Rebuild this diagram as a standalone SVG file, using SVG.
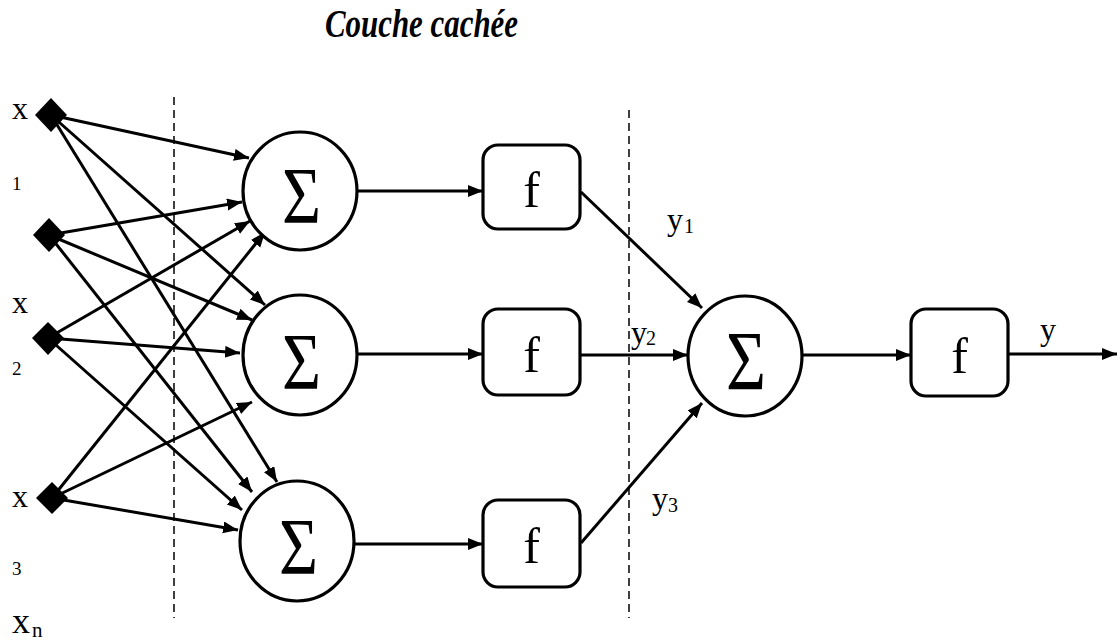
<svg xmlns="http://www.w3.org/2000/svg" width="1117" height="642" viewBox="0 0 1117 642">
  <style>
    .lbl { font-family: "Liberation Serif", "Times New Roman", serif; fill: #000; }
    .edge { stroke: #000; stroke-width: 3; fill: none; marker-end: url(#arrow); }
    .sum { fill: #fff; stroke: #000; stroke-width: 3.2; }
    .box { fill: #fff; stroke: #000; stroke-width: 3.2; }
    .sep { stroke: #000; stroke-width: 1.5; stroke-dasharray: 8 5; fill: none; }
    .inp { fill: #000; }
  </style>
  <defs>
    <marker id="arrow" markerUnits="userSpaceOnUse" markerWidth="16" markerHeight="14" refX="15" refY="6" orient="auto">
      <path d="M0,0 L15,6 L0,12 z" fill="#000"/>
    </marker>
  </defs>
  <rect width="1117" height="642" fill="#fff"/>

  <!-- title -->
  <text class="lbl" x="325" y="37" font-size="39" font-weight="bold" font-style="italic" textLength="193" lengthAdjust="spacingAndGlyphs">Couche cachée</text>

  <!-- layer separators -->
  <g id="separators">
    <line class="sep" x1="174" y1="97" x2="174" y2="618"/>
    <line class="sep" x1="629" y1="110" x2="629" y2="618"/>
  </g>

  <!-- connectors -->
  <g id="connectors">
    <!-- inputs to first hidden sum -->
    <line class="edge" x1="51" y1="115" x2="249" y2="158"/>
    <line class="edge" x1="49" y1="235" x2="242" y2="202"/>
    <line class="edge" x1="48" y1="338" x2="250" y2="221"/>
    <line class="edge" x1="52" y1="498" x2="265" y2="232"/>
    <!-- inputs to second hidden sum -->
    <line class="edge" x1="51" y1="115" x2="265" y2="305"/>
    <line class="edge" x1="49" y1="235" x2="252" y2="320"/>
    <line class="edge" x1="48" y1="338" x2="240" y2="353"/>
    <line class="edge" x1="52" y1="498" x2="252" y2="402"/>
    <!-- inputs to third hidden sum -->
    <line class="edge" x1="51" y1="115" x2="277" y2="482"/>
    <line class="edge" x1="49" y1="235" x2="252" y2="492"/>
    <line class="edge" x1="48" y1="338" x2="242" y2="510"/>
    <line class="edge" x1="52" y1="498" x2="238" y2="530"/>
    <!-- hidden sums to activations -->
    <line class="edge" x1="357" y1="191" x2="483" y2="191"/>
    <line class="edge" x1="357" y1="354" x2="483" y2="354"/>
    <line class="edge" x1="354" y1="544" x2="483" y2="544"/>
    <!-- activations to output sum -->
    <line class="edge" x1="581" y1="192" x2="702" y2="308"/>
    <line class="edge" x1="580" y1="355" x2="688" y2="355"/>
    <line class="edge" x1="581" y1="543" x2="702" y2="403"/>
    <!-- output sum to output activation, then out -->
    <line class="edge" x1="802" y1="355" x2="911" y2="355"/>
    <line class="edge" x1="1008" y1="354" x2="1117" y2="354"/>
  </g>

  <!-- input nodes -->
  <g id="input-1"><polygon class="inp" points="51,98 67,115 51,132 35,115"/></g>
  <g id="input-2"><polygon class="inp" points="49,218 65,235 49,252 33,235"/></g>
  <g id="input-3"><polygon class="inp" points="48,322 64,338 48,355 32,338"/></g>
  <g id="input-4"><polygon class="inp" points="52,482 68,498 52,514 36,498"/></g>

  <!-- hidden layer sums -->
  <g id="sum-1">
    <ellipse class="sum" cx="300" cy="191" rx="57" ry="59"/>
    <text class="lbl" x="282" y="223" font-size="80" textLength="39" lengthAdjust="spacingAndGlyphs">Σ</text>
  </g>
  <g id="sum-2">
    <ellipse class="sum" cx="300" cy="355" rx="57" ry="60"/>
    <text class="lbl" x="282" y="389" font-size="80" textLength="39" lengthAdjust="spacingAndGlyphs">Σ</text>
  </g>
  <g id="sum-3">
    <ellipse class="sum" cx="297" cy="541" rx="57" ry="60"/>
    <text class="lbl" x="279" y="574" font-size="80" textLength="39" lengthAdjust="spacingAndGlyphs">Σ</text>
  </g>

  <!-- hidden layer activations -->
  <g id="act-1">
    <rect class="box" x="483" y="145" width="97" height="84" rx="15"/>
    <text class="lbl" x="531.5" y="207" font-size="50" text-anchor="middle">f</text>
  </g>
  <g id="act-2">
    <rect class="box" x="483" y="309" width="97" height="86" rx="15"/>
    <text class="lbl" x="531.5" y="372" font-size="50" text-anchor="middle">f</text>
  </g>
  <g id="act-3">
    <rect class="box" x="483" y="500" width="97" height="87" rx="15"/>
    <text class="lbl" x="531.5" y="563" font-size="50" text-anchor="middle">f</text>
  </g>

  <!-- output sum and activation -->
  <g id="sum-out">
    <ellipse class="sum" cx="745" cy="356" rx="57" ry="60"/>
    <text class="lbl" x="726" y="390" font-size="84" textLength="40" lengthAdjust="spacingAndGlyphs">Σ</text>
  </g>
  <g id="act-out">
    <rect class="box" x="911" y="309" width="97" height="87" rx="15"/>
    <text class="lbl" x="959.5" y="373" font-size="50" text-anchor="middle">f</text>
  </g>

  <!-- input labels -->
  <g id="input-labels">
    <text class="lbl" x="12" y="119" font-size="32">x</text>
    <text class="lbl" x="12" y="190" font-size="19">1</text>
    <text class="lbl" x="12" y="313" font-size="32">x</text>
    <text class="lbl" x="12" y="375" font-size="19">2</text>
    <text class="lbl" x="12" y="507" font-size="32">x</text>
    <text class="lbl" x="12" y="575" font-size="19">3</text>
    <text class="lbl" x="12" y="633" font-size="36">x</text>
    <text class="lbl" x="32" y="637" font-size="21">n</text>
  </g>

  <!-- signal labels -->
  <g id="signal-labels">
    <text class="lbl" x="667" y="230" font-size="32">y</text>
    <text class="lbl" x="684" y="233" font-size="20">1</text>
    <text class="lbl" x="631" y="343" font-size="32">y</text>
    <text class="lbl" x="646" y="345" font-size="20">2</text>
    <text class="lbl" x="652" y="509" font-size="32">y</text>
    <text class="lbl" x="668" y="512" font-size="20">3</text>
    <text class="lbl" x="1040" y="340" font-size="32">y</text>
  </g>
</svg>
